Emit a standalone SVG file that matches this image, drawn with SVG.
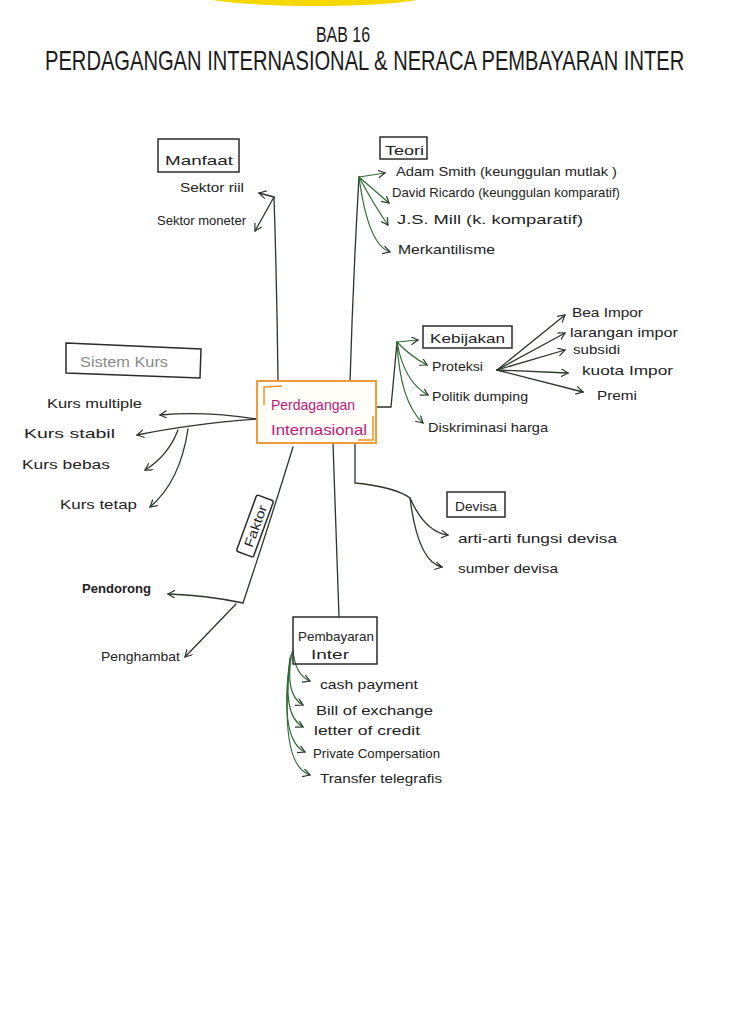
<svg xmlns="http://www.w3.org/2000/svg" width="740" height="1024" viewBox="0 0 740 1024">
<defs>
<style>
.t{font-family:"Liberation Sans","DejaVu Sans",sans-serif;fill:#222;font-size:13px}
.ttl{font-family:"Liberation Sans","DejaVu Sans",sans-serif;fill:#1a1a1a}
.ln{fill:none;stroke:#2b352b;stroke-width:1.3;stroke-linecap:round}
.gr{fill:none;stroke:#2f6b35;stroke-width:1.2;stroke-linecap:round}
.bx{fill:none;stroke:#2b2b2b;stroke-width:1.5}
.ctr{font-family:"Liberation Sans","DejaVu Sans",sans-serif;fill:#c2187a;font-size:15px}
</style>
<marker id="ah" markerWidth="9" markerHeight="9" refX="7" refY="4" orient="auto" markerUnits="userSpaceOnUse">
<path d="M0,0 L7,4 L0,8" fill="none" stroke="#2b352b" stroke-width="1.2"/>
</marker>
</defs>
<rect width="740" height="1024" fill="#ffffff"/>
<ellipse cx="315" cy="-8" rx="125" ry="14" fill="#f5d800"/>

<g id="title">
<text class="ttl" x="316" y="42" font-size="22" textLength="54" lengthAdjust="spacingAndGlyphs">BAB 16</text>
<g transform="translate(45,70) scale(0.746,1)">
<text class="ttl" x="0" y="0" font-size="27">PERDAGANGAN INTERNASIONAL &amp; NERACA PEMBAYARAN INTER</text>
</g>
</g>

<g id="connectors">
<!-- Manfaat -->
<path class="ln" d="M278,380 Q277,290 274,197"/>
<path class="ln" d="M274,197 L259,193" marker-end="url(#ah)"/>
<path class="ln" d="M274,197 L255,231" marker-end="url(#ah)"/>
<!-- Teori -->
<path class="ln" d="M350,383 Q353,280 359,177"/>
<path class="gr" d="M359,177 L385,173" marker-end="url(#ah)"/>
<path class="gr" d="M359,177 L389,203" marker-end="url(#ah)"/>
<path class="gr" d="M359,177 Q374,205 388,225" marker-end="url(#ah)"/>
<path class="gr" d="M359,177 Q368,245 390,252" marker-end="url(#ah)"/>
<!-- Kebijakan -->
<path class="ln" d="M377,407 L391,407 L397,342"/>
<path class="gr" d="M397,342 L418,340" marker-end="url(#ah)"/>
<path class="gr" d="M397,342 Q410,356 427,365" marker-end="url(#ah)"/>
<path class="gr" d="M397,342 Q404,382 428,395" marker-end="url(#ah)"/>
<path class="gr" d="M397,342 Q400,402 423,423" marker-end="url(#ah)"/>
<!-- Proteksi -->
<path class="ln" d="M497,370 L565,315" marker-end="url(#ah)"/>
<path class="ln" d="M497,370 L565,333" marker-end="url(#ah)"/>
<path class="ln" d="M497,370 L565,350" marker-end="url(#ah)"/>
<path class="ln" d="M497,370 L568,373" marker-end="url(#ah)"/>
<path class="ln" d="M497,370 L583,392" marker-end="url(#ah)"/>
<!-- Sistem Kurs -->
<path class="ln" d="M257,419 Q205,411 160,415" marker-end="url(#ah)"/>
<path class="ln" d="M257,419 Q190,424 137,435" marker-end="url(#ah)"/>
<path class="ln" d="M178,430 Q168,456 145,470" marker-end="url(#ah)"/>
<path class="ln" d="M188,429 Q180,482 150,507" marker-end="url(#ah)"/>
<!-- Faktor -->
<path class="ln" d="M293,447 Q270,522 243,603"/>
<path class="ln" d="M243,603 Q205,595 168,594" marker-end="url(#ah)"/>
<path class="ln" d="M236,604 L185,657" marker-end="url(#ah)"/>
<!-- Pembayaran -->
<path class="ln" d="M333,443 L339,617"/>
<path class="gr" d="M293,650 Q295,675 310,681" marker-end="url(#ah)"/>
<path class="gr" d="M292,652 Q284,695 303,705" marker-end="url(#ah)"/>
<path class="gr" d="M291,655 Q281,715 303,727" marker-end="url(#ah)"/>
<path class="gr" d="M290,658 Q279,740 305,752" marker-end="url(#ah)"/>
<path class="gr" d="M290,660 Q279,765 310,775" marker-end="url(#ah)"/>
<!-- Devisa -->
<path class="ln" d="M355,443 L355,483 Q395,487 410,498 Q425,532 448,535" marker-end="url(#ah)"/>
<path class="ln" d="M410,498 Q418,562 442,567" marker-end="url(#ah)"/>
</g>

<g id="center">
<rect x="257" y="381" width="119" height="62" fill="#fffdf8" stroke="#f0912a" stroke-width="1.8"/>
<path d="M282,386 L264,387 L264,405" fill="none" stroke="#f0912a" stroke-width="1.5"/>
<path d="M373,416 L373,440 L358,440" fill="none" stroke="#f0912a" stroke-width="1.5"/>
<text class="ctr" x="271" y="410" textLength="84" lengthAdjust="spacingAndGlyphs">Perdagangan</text>
<text class="ctr" x="271" y="435" textLength="96" lengthAdjust="spacingAndGlyphs">Internasional</text>
</g>

<g id="manfaat">
<rect class="bx" x="158" y="139" width="81" height="33"/>
<text class="t" x="165" y="165" font-size="17" textLength="68" lengthAdjust="spacingAndGlyphs">Manfaat</text>
<text class="t" x="180" y="192" textLength="64" lengthAdjust="spacingAndGlyphs">Sektor riil</text>
<text class="t" x="157" y="225" textLength="89" lengthAdjust="spacingAndGlyphs">Sektor moneter</text>
</g>

<g id="teori">
<rect class="bx" x="380" y="137" width="47" height="22"/>
<text class="t" x="385" y="155" font-size="15" textLength="39" lengthAdjust="spacingAndGlyphs">Teori</text>
<text class="t" x="396" y="176" font-size="14" textLength="221" lengthAdjust="spacingAndGlyphs">Adam Smith (keunggulan mutlak )</text>
<text class="t" x="392" y="197" font-size="14" textLength="228" lengthAdjust="spacingAndGlyphs">David Ricardo (keunggulan komparatif)</text>
<text class="t" x="397" y="224" font-size="14" textLength="186" lengthAdjust="spacingAndGlyphs">J.S. Mill (k. komparatif)</text>
<text class="t" x="398" y="254" font-size="14" textLength="97" lengthAdjust="spacingAndGlyphs">Merkantilisme</text>
</g>

<g id="kebijakan">
<rect class="bx" x="423" y="326" width="89" height="22"/>
<text class="t" x="430" y="343" font-size="15" textLength="75" lengthAdjust="spacingAndGlyphs">Kebijakan</text>
<text class="t" x="432" y="371" textLength="51" lengthAdjust="spacingAndGlyphs">Proteksi</text>
<text class="t" x="432" y="401" font-size="12" textLength="96" lengthAdjust="spacingAndGlyphs">Politik dumping</text>
<text class="t" x="428" y="432" font-size="12" textLength="120" lengthAdjust="spacingAndGlyphs">Diskriminasi harga</text>
<text class="t" x="572" y="317" font-size="14" textLength="71" lengthAdjust="spacingAndGlyphs">Bea Impor</text>
<text class="t" x="570" y="337" font-size="14" textLength="108" lengthAdjust="spacingAndGlyphs">larangan impor</text>
<text class="t" x="573" y="354" font-size="14" textLength="47" lengthAdjust="spacingAndGlyphs">subsidi</text>
<text class="t" x="582" y="375" font-size="14" textLength="91" lengthAdjust="spacingAndGlyphs">kuota Impor</text>
<text class="t" x="597" y="400" font-size="14" textLength="40" lengthAdjust="spacingAndGlyphs">Premi</text>
</g>

<g id="sistem-kurs">
<path class="bx" d="M66,343 L201,349 L200,378 L66,373 Z"/>
<text x="80" y="367" font-family="Liberation Sans, DejaVu Sans, sans-serif" font-size="14" fill="#8a8a8a" textLength="88" lengthAdjust="spacingAndGlyphs">Sistem Kurs</text>
<text class="t" x="47" y="408" textLength="95" lengthAdjust="spacingAndGlyphs">Kurs multiple</text>
<text class="t" x="24" y="438" textLength="91" lengthAdjust="spacingAndGlyphs">Kurs stabil</text>
<text class="t" x="22" y="469" textLength="88" lengthAdjust="spacingAndGlyphs">Kurs bebas</text>
<text class="t" x="60" y="509" textLength="77" lengthAdjust="spacingAndGlyphs">Kurs tetap</text>
</g>

<g id="faktor">
<g transform="translate(255,526) rotate(-70)">
<rect class="bx" x="-30" y="-9" width="60" height="18" rx="2"/>
<text class="t" x="0" y="5" text-anchor="middle" font-size="13" textLength="44" lengthAdjust="spacingAndGlyphs">Faktor</text>
</g>
<text class="t" x="82" y="593" font-size="15" font-weight="bold" textLength="69" lengthAdjust="spacingAndGlyphs">Pendorong</text>
<text class="t" x="101" y="661" font-size="15" textLength="79" lengthAdjust="spacingAndGlyphs">Penghambat</text>
</g>

<g id="pembayaran">
<rect class="bx" x="293" y="617" width="84" height="47"/>
<text class="t" x="298" y="641" font-size="14" textLength="76" lengthAdjust="spacingAndGlyphs">Pembayaran</text>
<text class="t" x="311" y="659" font-size="14" textLength="38" lengthAdjust="spacingAndGlyphs">Inter</text>
<text class="t" x="320" y="689" textLength="98" lengthAdjust="spacingAndGlyphs">cash payment</text>
<text class="t" x="316" y="715" textLength="117" lengthAdjust="spacingAndGlyphs">Bill of exchange</text>
<text class="t" x="314" y="735" textLength="106" lengthAdjust="spacingAndGlyphs">letter of credit</text>
<text class="t" x="313" y="758" textLength="127" lengthAdjust="spacingAndGlyphs">Private Compersation</text>
<text class="t" x="320" y="783" textLength="122" lengthAdjust="spacingAndGlyphs">Transfer telegrafis</text>
</g>

<g id="devisa">
<rect class="bx" x="447" y="492" width="58" height="25"/>
<text class="t" x="455" y="511" font-size="15" textLength="42" lengthAdjust="spacingAndGlyphs">Devisa</text>
<text class="t" x="458" y="543" textLength="159" lengthAdjust="spacingAndGlyphs">arti-arti fungsi devisa</text>
<text class="t" x="458" y="573" textLength="100" lengthAdjust="spacingAndGlyphs">sumber devisa</text>
</g>
</svg>
